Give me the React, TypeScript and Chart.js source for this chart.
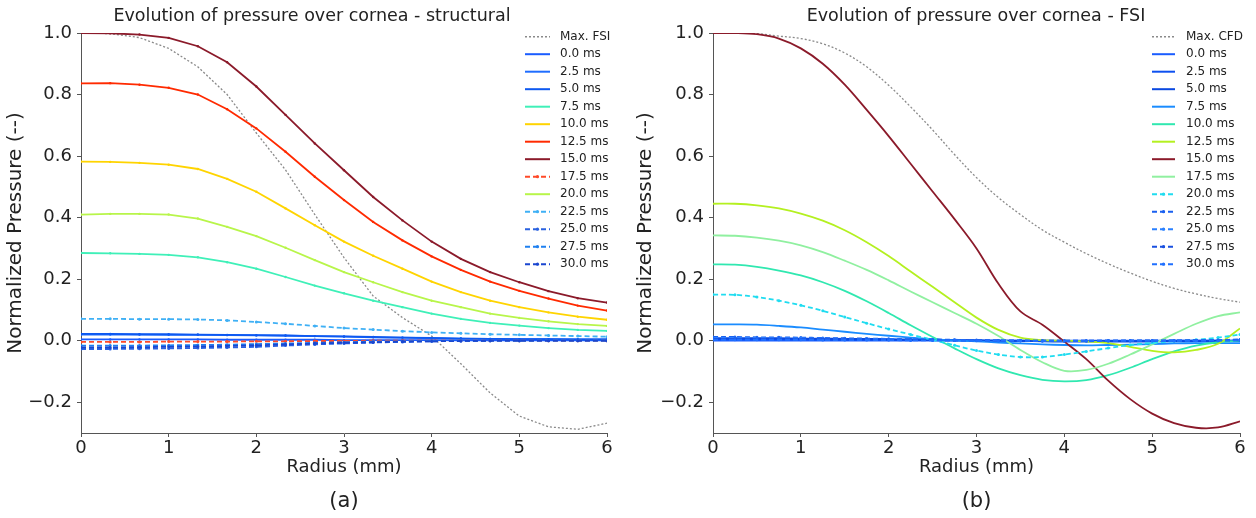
import React, { useEffect, useRef } from "react";
import { Chart, registerables } from "chart.js";
Chart.register(...registerables);

const FONT = '"DejaVu Sans", sans-serif';

// ---------- axes ----------
const xTicks = [0, 1, 2, 3, 4, 5, 6];
const yTicks = [-0.2, 0.0, 0.2, 0.4, 0.6, 0.8, 1.0];

// ---------- panel (a): structural ----------
const radiusA = [0, 0.333, 0.667, 1, 1.333, 1.667, 2, 2.333, 2.667, 3, 3.333, 3.667, 4, 4.333, 4.667, 5, 5.333, 5.667, 6];
const labelsA = ["Max. FSI", "0.0 ms", "2.5 ms", "5.0 ms", "7.5 ms", "10.0 ms", "12.5 ms", "15.0 ms", "17.5 ms", "20.0 ms", "22.5 ms", "25.0 ms", "27.5 ms", "30.0 ms"];
const aMaxFSI = [1.0, 0.998, 0.985, 0.95, 0.89, 0.8, 0.675, 0.555, 0.41, 0.27, 0.145, 0.075, 0.015, -0.075, -0.17, -0.245, -0.28, -0.288, -0.268];
const a00 = [0.004, 0.004, 0.004, 0.004, 0.004, 0.003, 0.003, 0.003, 0.003, 0.002, 0.002, 0.002, 0.002, 0.001, 0.001, 0.001, 0.001, 0.001, 0.001];
const a25 = [0.02, 0.02, 0.02, 0.019, 0.019, 0.018, 0.017, 0.016, 0.015, 0.013, 0.011, 0.01, 0.008, 0.007, 0.006, 0.005, 0.005, 0.004, 0.004];
const a50 = [0.022, 0.022, 0.021, 0.021, 0.02, 0.019, 0.018, 0.017, 0.015, 0.014, 0.012, 0.01, 0.009, 0.007, 0.006, 0.005, 0.005, 0.004, 0.004];
const a75 = [0.285, 0.284, 0.282, 0.279, 0.271, 0.255, 0.234, 0.207, 0.179, 0.154, 0.13, 0.109, 0.088, 0.071, 0.058, 0.049, 0.041, 0.035, 0.032];
const a100 = [0.582, 0.581, 0.578, 0.572, 0.558, 0.526, 0.484, 0.43, 0.375, 0.322, 0.276, 0.234, 0.192, 0.158, 0.13, 0.109, 0.092, 0.078, 0.068];
const a125 = [0.836, 0.837, 0.832, 0.822, 0.8, 0.752, 0.69, 0.614, 0.533, 0.457, 0.386, 0.326, 0.274, 0.23, 0.192, 0.162, 0.137, 0.114, 0.098];
const a150 = [1.0, 0.999, 0.995, 0.984, 0.957, 0.905, 0.826, 0.734, 0.641, 0.554, 0.467, 0.391, 0.322, 0.266, 0.223, 0.19, 0.161, 0.138, 0.124];
const a175 = [-0.004, -0.004, -0.004, -0.003, -0.003, -0.003, -0.002, -0.002, -0.001, -0.001, 0.0, 0.0, 0.0, 0.0, 0.0, 0.0, 0.0, 0.0, 0.0];
const a200 = [0.41, 0.412, 0.412, 0.41, 0.397, 0.37, 0.34, 0.302, 0.262, 0.223, 0.19, 0.158, 0.13, 0.109, 0.088, 0.074, 0.063, 0.054, 0.048];
const a225 = [0.071, 0.071, 0.07, 0.07, 0.069, 0.066, 0.061, 0.055, 0.048, 0.041, 0.036, 0.031, 0.027, 0.024, 0.021, 0.019, 0.017, 0.015, 0.013];
const a250 = [-0.027, -0.027, -0.026, -0.025, -0.024, -0.022, -0.02, -0.016, -0.012, -0.009, -0.006, -0.004, -0.002, -0.001, 0.0, 0.0, 0.0, 0.0, 0.0];
const a275 = [-0.016, -0.016, -0.016, -0.015, -0.014, -0.013, -0.011, -0.009, -0.007, -0.005, -0.003, -0.002, -0.001, 0.0, 0.0, 0.0, 0.001, 0.001, 0.001];
const a300 = [-0.022, -0.022, -0.021, -0.02, -0.019, -0.017, -0.015, -0.012, -0.009, -0.007, -0.005, -0.003, -0.002, -0.001, 0.0, 0.0, 0.0, 0.0, 0.0];

// ---------- panel (b): FSI ----------
const radiusB = [0, 0.25, 0.5, 0.75, 1, 1.25, 1.5, 1.75, 2, 2.25, 2.5, 2.75, 3, 3.25, 3.5, 3.75, 4, 4.25, 4.5, 4.75, 5, 5.25, 5.5, 5.75, 6];
const labelsB = ["Max. CFD", "0.0 ms", "2.5 ms", "5.0 ms", "7.5 ms", "10.0 ms", "12.5 ms", "15.0 ms", "17.5 ms", "20.0 ms", "22.5 ms", "25.0 ms", "27.5 ms", "30.0 ms"];
const bMaxCFD = [1.0, 1.0, 0.998, 0.99, 0.982, 0.965, 0.935, 0.89, 0.83, 0.76, 0.685, 0.605, 0.53, 0.465, 0.41, 0.36, 0.32, 0.283, 0.25, 0.22, 0.193, 0.17, 0.152, 0.137, 0.125];
const b00 = [0.0, 0.0, 0.0, 0.0, 0.0, 0.0, 0.0, 0.0, 0.0, 0.0, 0.0, 0.0, 0.0, 0.0, 0.0, 0.0, 0.0, 0.0, 0.0, 0.0, 0.0, 0.0, 0.0, 0.0, 0.0];
const b25 = [0.004, 0.004, 0.004, 0.004, 0.004, 0.003, 0.003, 0.003, 0.003, 0.002, 0.002, 0.001, 0.001, 0.0, 0.0, 0.0, -0.001, -0.001, -0.001, -0.001, -0.001, 0.0, 0.0, 0.0, 0.0];
const b50 = [0.008, 0.008, 0.008, 0.008, 0.007, 0.007, 0.006, 0.006, 0.005, 0.004, 0.003, 0.002, 0.001, 0.0, -0.001, -0.002, -0.003, -0.003, -0.003, -0.003, -0.003, -0.002, -0.002, -0.001, -0.001];
const b75 = [0.053, 0.053, 0.052, 0.048, 0.043, 0.036, 0.029, 0.022, 0.016, 0.01, 0.005, 0.001, -0.002, -0.006, -0.009, -0.012, -0.014, -0.015, -0.014, -0.013, -0.011, -0.009, -0.008, -0.008, -0.008];
const b100 = [0.248, 0.247, 0.24, 0.228, 0.212, 0.19, 0.162, 0.128, 0.09, 0.05, 0.012, -0.025, -0.06, -0.09, -0.112, -0.127, -0.132, -0.128, -0.112, -0.088, -0.06, -0.035, -0.016, -0.005, 0.0];
const b125 = [0.445, 0.445, 0.44, 0.43, 0.413, 0.39, 0.359, 0.32, 0.275, 0.225, 0.175, 0.125, 0.075, 0.035, 0.01, 0.002, 0.0, -0.002, -0.008, -0.02, -0.033, -0.038, -0.03, -0.01, 0.04];
const b150 = [1.0, 1.0, 0.996, 0.982, 0.95, 0.9, 0.832, 0.75, 0.665, 0.575, 0.485, 0.395, 0.3, 0.185, 0.095, 0.052, -0.003, -0.06, -0.13, -0.19, -0.237, -0.268, -0.283, -0.282, -0.262];
const b175 = [0.342, 0.341, 0.335, 0.325, 0.31, 0.288, 0.26, 0.23, 0.196, 0.16, 0.125, 0.09, 0.055, 0.015, -0.03, -0.07, -0.098, -0.095, -0.075, -0.045, -0.012, 0.022, 0.055, 0.08, 0.092];
const b200 = [0.15, 0.149, 0.142, 0.13, 0.115, 0.097, 0.077, 0.057, 0.038, 0.02, 0.003, -0.015, -0.032, -0.045, -0.053, -0.053, -0.045, -0.035, -0.024, -0.014, -0.007, -0.002, 0.003, 0.01, 0.02];
const b225 = [0.012, 0.012, 0.011, 0.011, 0.01, 0.009, 0.008, 0.007, 0.006, 0.005, 0.004, 0.003, 0.002, 0.001, 0.0, -0.001, -0.001, -0.001, -0.001, 0.0, 0.0, 0.0, 0.001, 0.002, 0.004];
const b250 = [0.009, 0.009, 0.009, 0.008, 0.008, 0.007, 0.006, 0.006, 0.005, 0.004, 0.003, 0.002, 0.001, 0.0, 0.0, -0.001, -0.001, -0.001, 0.0, 0.0, 0.0, 0.001, 0.001, 0.002, 0.003];
const b275 = [0.006, 0.006, 0.006, 0.006, 0.005, 0.005, 0.004, 0.004, 0.003, 0.003, 0.002, 0.001, 0.001, 0.0, 0.0, 0.0, 0.0, 0.0, 0.0, 0.0, 0.0, 0.0, 0.001, 0.001, 0.002];
const b300 = [0.003, 0.003, 0.003, 0.003, 0.003, 0.002, 0.002, 0.002, 0.002, 0.001, 0.001, 0.001, 0.0, 0.0, 0.0, 0.0, 0.0, 0.0, 0.0, 0.0, 0.0, 0.0, 0.0, 0.0, 0.001];

// ---------- styles ----------
type Sty = { color: string; kind: "dot" | "solid" | "dash" };
const stylesA: Sty[] = [
  { color: "#8a8a8a", kind: "dot" },
  { color: "#1a5cff", kind: "solid" },
  { color: "#1f6dff", kind: "solid" },
  { color: "#0d58f0", kind: "solid" },
  { color: "#3ff0b8", kind: "solid" },
  { color: "#ffd400", kind: "solid" },
  { color: "#ff2a00", kind: "solid" },
  { color: "#8b1a2a", kind: "solid" },
  { color: "#ff4a28", kind: "dash" },
  { color: "#b8f54a", kind: "solid" },
  { color: "#3fb0f5", kind: "dash" },
  { color: "#2a62e0", kind: "dash" },
  { color: "#1f80f0", kind: "dash" },
  { color: "#1a46d0", kind: "dash" },
];
const stylesB: Sty[] = [
  { color: "#8a8a8a", kind: "dot" },
  { color: "#1a5cff", kind: "solid" },
  { color: "#0d50f0", kind: "solid" },
  { color: "#0a48e0", kind: "solid" },
  { color: "#1a8cff", kind: "solid" },
  { color: "#30e8b0", kind: "solid" },
  { color: "#b4f020", kind: "solid" },
  { color: "#8b1a2a", kind: "solid" },
  { color: "#90f0a0", kind: "solid" },
  { color: "#20dcf0", kind: "dash" },
  { color: "#1a60f0", kind: "dash" },
  { color: "#2a80ff", kind: "dash" },
  { color: "#1a50e0", kind: "dash" },
  { color: "#2070ff", kind: "dash" },
];

type Panel = {
  x: number[];
  series: number[][];
  labels: string[];
  styles: Sty[];
  title: string;
  tag: string;
  titleX: number;
  yWidth: number;
  padRight: number;
  legLine: [number, number];
  legText: number;
  tension: number;
  solidPoints: number;
};

const panelA: Panel = {
  x: radiusA,
  series: [aMaxFSI, a00, a25, a50, a75, a100, a125, a150, a175, a200, a225, a250, a275, a300],
  labels: labelsA,
  styles: stylesA,
  title: "Evolution of pressure over cornea - structural",
  tag: "(a)",
  titleX: 312,
  yWidth: 81,
  padRight: 23,
  legLine: [525, 550],
  legText: 560,
  tension: 0,
  solidPoints: 1.2,
};
const panelB: Panel = {
  x: radiusB,
  series: [bMaxCFD, b00, b25, b50, b75, b100, b125, b150, b175, b200, b225, b250, b275, b300],
  labels: labelsB,
  styles: stylesB,
  title: "Evolution of pressure over cornea - FSI",
  tag: "(b)",
  titleX: 346,
  yWidth: 83,
  padRight: 16,
  legLine: [522, 545],
  legText: 556,
  tension: 0.35,
  solidPoints: 0,
};

function dashFor(kind: string): number[] {
  if (kind === "dot") return [2, 2];
  if (kind === "dash") return [5, 3];
  return [];
}

function fmtY(v: number): string {
  const s = Math.abs(v).toFixed(1);
  return v < -1e-9 ? "\u2212" + s : s;
}

function decor(p: Panel) {
  return {
    id: "decor",
    afterDraw(chart: any) {
      const ctx: CanvasRenderingContext2D = chart.ctx;
      const ca = chart.chartArea;
      const cx = (ca.left + ca.right) / 2;
      ctx.save();
      ctx.fillStyle = "#222";
      ctx.textAlign = "center";
      ctx.textBaseline = "middle";
      ctx.font = `17.5px ${FONT}`;
      ctx.fillText(p.title, p.titleX, 16);
      ctx.font = `18px ${FONT}`;
      ctx.fillText("Radius (mm)", cx, 467);
      ctx.font = `21px ${FONT}`;
      ctx.fillText(p.tag, cx, 502);
      ctx.save();
      ctx.translate(16, (ca.top + ca.bottom) / 2);
      ctx.rotate(-Math.PI / 2);
      ctx.font = `20px ${FONT}`;
      ctx.fillText("Normalized Pressure (--)", 0, 0);
      ctx.restore();
      // legend
      ctx.font = `12px ${FONT}`;
      ctx.textAlign = "left";
      p.labels.forEach((lab, i) => {
        const y = 36.7 + i * 17.5;
        const st = p.styles[i];
        ctx.strokeStyle = st.color;
        ctx.lineWidth = st.kind === "dot" ? 1.5 : 2;
        ctx.setLineDash(dashFor(st.kind));
        ctx.beginPath();
        ctx.moveTo(p.legLine[0], y);
        ctx.lineTo(p.legLine[1], y);
        ctx.stroke();
        ctx.setLineDash([]);
        if (st.kind === "dash") {
          ctx.fillStyle = st.color;
          ctx.beginPath();
          ctx.arc((p.legLine[0] + p.legLine[1]) / 2, y, 1.6, 0, Math.PI * 2);
          ctx.fill();
        }
        ctx.fillStyle = "#222";
        ctx.fillText(lab, p.legText, y);
      });
      ctx.restore();
    },
  };
}

function makeConfig(p: Panel): any {
  const n = p.series.length;
  return {
    type: "line",
    data: {
      datasets: p.series.map((s, i) => {
        const st = p.styles[i];
        return {
          label: p.labels[i],
          data: p.x.map((x, j) => ({ x, y: s[j] })),
          borderColor: st.color,
          backgroundColor: st.color,
          borderWidth: st.kind === "dot" ? 1.3 : 1.8,
          borderDash: dashFor(st.kind),
          pointRadius: st.kind === "dash" ? 1.5 : st.kind === "solid" ? p.solidPoints : 0,
          pointBorderWidth: 0,
          pointBackgroundColor: st.color,
          tension: p.tension,
          fill: false,
          order: n - i,
        };
      }),
    },
    options: {
      responsive: false,
      animation: false,
      events: [],
      layout: { padding: { top: 33, left: 0, right: p.padRight, bottom: 0 } },
      plugins: {
        legend: { display: false },
        title: { display: false },
        tooltip: { enabled: false },
      },
      scales: {
        x: {
          type: "linear",
          min: 0,
          max: 6,
          afterFit: (s: any) => {
            s.height = 85;
          },
          afterBuildTicks: (s: any) => {
            s.ticks = xTicks.map((v) => ({ value: v }));
          },
          ticks: {
            font: { family: FONT, size: 18 },
            color: "#222",
            padding: 1,
            maxRotation: 0,
            callback: (v: any) => String(v),
          },
          grid: { drawOnChartArea: false, drawTicks: true, tickLength: 4, color: "#555" },
          border: { display: true, color: "#555", width: 1 },
        },
        y: {
          type: "linear",
          min: -0.3,
          max: 1.0,
          afterFit: (s: any) => {
            s.width = p.yWidth;
          },
          afterBuildTicks: (s: any) => {
            s.ticks = yTicks.map((v) => ({ value: v }));
          },
          ticks: {
            font: { family: FONT, size: 18 },
            color: "#222",
            padding: 5,
            callback: (v: any) => fmtY(Number(v)),
          },
          grid: { drawOnChartArea: false, drawTicks: true, tickLength: 4, color: "#555" },
          border: { display: true, color: "#555", width: 1 },
        },
      },
    },
    plugins: [decor(p)],
  };
}

function ChartPanel({ panel, left, width }: { panel: Panel; left: number; width: number }) {
  const ref = useRef<HTMLCanvasElement | null>(null);
  useEffect(() => {
    if (!ref.current) return;
    const chart = new Chart(ref.current, makeConfig(panel));
    return () => chart.destroy();
  }, [panel]);
  return (
    <canvas
      ref={ref}
      width={width}
      height={518}
      style={{ position: "absolute", left, top: 0, width, height: 518 }}
    />
  );
}

export default function App() {
  return (
    <div style={{ position: "absolute", left: 0, top: 0, width: 1256, height: 518, background: "#fff", overflow: "hidden" }}>
      <ChartPanel panel={panelA} left={0} width={630} />
      <ChartPanel panel={panelB} left={630} width={626} />
    </div>
  );
}
